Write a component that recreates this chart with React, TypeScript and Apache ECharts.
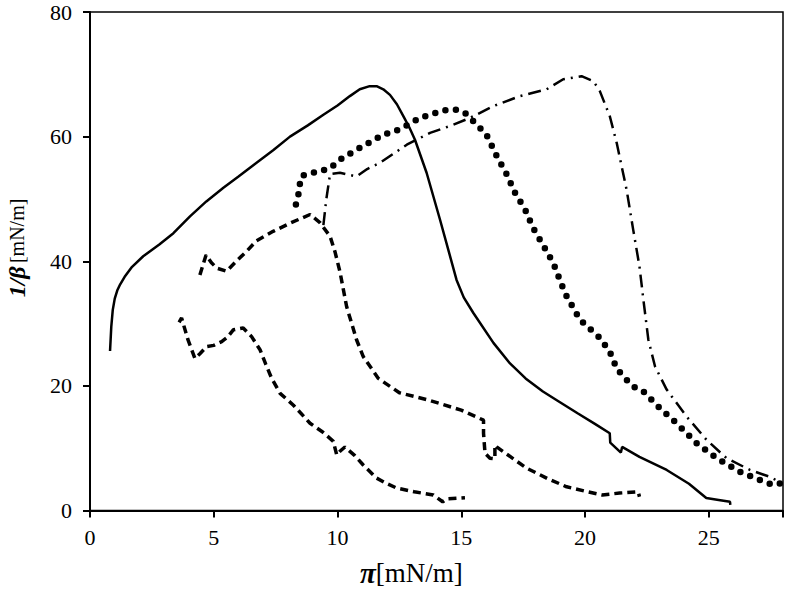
import React, { useEffect, useRef } from "react";
import * as echarts from "echarts";

const xTicks = [0, 5, 10, 15, 20, 25];
const yTicks = [0, 20, 40, 60, 80];

const solid: number[][] = [
  [0.81, 25.6], [0.86, 29.5], [0.92, 32.2], [1.0, 34.0], [1.1, 35.3], [1.22, 36.3], [1.4, 37.5],
  [1.7, 39.1], [2.15, 40.8],
  [2.8, 42.7], [3.37, 44.5], [4.04, 47.2], [4.7, 49.6], [5.39, 51.8], [6.0, 53.6], [6.73, 55.8],
  [7.4, 57.8], [8.08, 60], [8.8, 61.8], [9.43, 63.5], [10.0, 65], [10.5, 66.5], [10.9, 67.6],
  [11.3, 68.1], [11.58, 68.1], [11.85, 67.6], [12.12, 66.7], [12.4, 65.2], [12.66, 63.3],
  [12.9, 61.5], [13.13, 59.5], [13.6, 54.2], [14.14, 46.7], [14.5, 41.5], [14.81, 37],
  [15.1, 34.2], [15.49, 31.7], [16.3, 26.9], [16.97, 23.6], [17.6, 21.2], [18.3, 19.1],
  [18.86, 17.7], [19.7, 15.6], [20.4, 13.9], [21.0, 12.4], [21.02, 10.9], [21.45, 9.3],
  [21.5, 10.2], [22.2, 8.6], [23.3, 6.5], [24.2, 4.3], [24.9, 2.0], [25.4, 1.7], [25.86, 1.4],
  [25.87, 0.9],
];

const dashedLow: number[][] = [
  [3.6, 30.2], [3.7, 30.9], [3.95, 27.5], [4.24, 24.4], [4.45, 25.2], [4.71, 26.3], [5.0, 26.5],
  [5.32, 27.1], [5.55, 27.8], [5.79, 29], [6.19, 29.3], [6.53, 27.9], [6.87, 25.8], [7.1, 23.5],
  [7.34, 21.2], [7.68, 18.8], [8.22, 16.9], [8.89, 14], [9.4, 12.6], [9.83, 11.1], [9.97, 8.9],
  [10.1, 9.5], [10.3, 10.2], [10.7, 8.8], [11.04, 7.3], [11.58, 5.2], [12.0, 4.3], [12.39, 3.6],
  [13.1, 3.0], [13.87, 2.5], [14.25, 1.4], [14.4, 1.85], [15.15, 2.06],
];

const dashedMid: number[][] = [
  [4.44, 37.8], [4.69, 41], [4.9, 39.8], [5.12, 38.9], [5.52, 38.4], [5.93, 40.1], [6.33, 41.6],
  [6.73, 43.3], [7.4, 44.8], [8.08, 46.1], [8.89, 47.5], [9.29, 46.2], [9.7, 44], [9.9, 41.5],
  [10.1, 38.3], [10.37, 32.7], [10.77, 27.4], [11.04, 24.7], [11.65, 21.2], [12.5, 18.9],
  [13.7, 17.7], [15.0, 16.1], [15.9, 14.5], [15.9, 12.4], [15.96, 9.2], [16.16, 8.4],
  [16.36, 8.3], [16.36, 10.5], [16.43, 10.2], [17.64, 6.8], [18.5, 5.1], [19.26, 3.8],
  [20.0, 3.1], [20.7, 2.5], [21.4, 2.8], [22.15, 3.0], [22.2, 2.2],
];

const dotted: number[][] = [
  [8.32, 49.1], [8.42, 50.7], [8.48, 52.4], [8.55, 53.7], [9.02, 54.2], [9.7, 54.9], [10.1, 56.3],
  [10.77, 57.9], [11.85, 60.3], [12.53, 61.2], [13.33, 63], [14.28, 64.2], [14.81, 64.3],
  [15.15, 63.8], [15.69, 61.7], [16.03, 60.2], [16.43, 56.9], [16.83, 54], [17.17, 51],
  [17.58, 48.3], [17.91, 45.3], [18.32, 42.5], [18.72, 39.7], [19.2, 34.8], [19.8, 30.6],
  [20.6, 27.7], [21.0, 25.5], [21.28, 22.8], [21.55, 21.5], [21.95, 19.9], [22.36, 19.1],
  [23.03, 16.4], [23.7, 14], [24.51, 10.8], [25.32, 8.4], [26.26, 6.2], [27.07, 4.9],
  [27.6, 4.1], [27.95, 4.4],
];

const dashDot: number[][] = [
  [9.43, 45.8], [9.55, 50], [9.7, 54.0], [10.1, 54.2], [10.77, 53.6], [11.2, 54.8], [11.72, 55.8],
  [12.8, 58.7], [13.74, 60.6], [14.68, 61.9], [15.35, 63], [16.3, 64.9], [17.37, 66.5],
  [18.45, 67.6], [19.12, 69.2], [19.86, 69.7], [20.34, 68.9], [20.6, 67.3], [21.0, 63.3],
  [21.28, 59], [21.68, 51.5], [21.95, 45], [22.2, 39.2], [22.36, 33.8], [22.56, 27.4],
  [22.83, 23.1], [23.3, 19.4], [24.1, 15.1], [24.92, 11.3], [25.72, 8.4], [26.67, 6.5],
  [27.47, 5.4], [27.95, 4.4],
];

const FONT = "Liberation Serif";

export default function App() {
  const ref = useRef<HTMLDivElement>(null);
  useEffect(() => {
    if (!ref.current) return;
    const chart = echarts.init(ref.current, null, { renderer: "svg" });
    const lineSeries = (data: number[][], lineStyle: any) => ({
      type: "line",
      data,
      showSymbol: false,
      symbol: "none",
      smooth: false,
      lineStyle: { color: "#000", ...lineStyle },
    });
    chart.setOption({
      animation: false,
      backgroundColor: "#fff",
      grid: {
        left: 90,
        right: 6,
        top: 12,
        bottom: 83.5,
        show: true,
        borderColor: "#000",
        borderWidth: 1.5,
        backgroundColor: "transparent",
      },
      xAxis: {
        type: "value",
        min: 0,
        max: 28,
        interval: 5,
        axisLine: { show: true, onZero: false, lineStyle: { color: "#000", width: 2 } },
        axisTick: { show: true, inside: false, length: 7, lineStyle: { color: "#000", width: 2 } },
        axisLabel: {
          margin: 16,
          color: "#000",
          fontFamily: FONT,
          fontSize: 22,
          formatter: (v: number) => (xTicks.includes(v) ? String(v) : ""),
        },
        splitLine: { show: false },
      },
      yAxis: {
        type: "value",
        min: 0,
        max: 80,
        interval: 20,
        axisLine: { show: true, onZero: false, lineStyle: { color: "#000", width: 2 } },
        axisTick: { show: true, inside: false, length: 7, lineStyle: { color: "#000", width: 2 } },
        axisLabel: {
          margin: 18,
          color: "#000",
          fontFamily: FONT,
          fontSize: 22,
          formatter: (v: number) => (yTicks.includes(v) ? String(v) : ""),
        },
        splitLine: { show: false },
      },
      graphic: [
        {
          type: "text",
          left: 360,
          top: 558,
          style: {
            text: "{b|π}{n|[mN/m]}",
            rich: {
              b: { fontFamily: FONT, fontSize: 29, fontWeight: "bold", fontStyle: "italic", fill: "#000" },
              n: { fontFamily: FONT, fontSize: 27, fill: "#000" },
            },
          },
        },
        {
          type: "text",
          x: 17,
          y: 248,
          rotation: Math.PI / 2,
          style: {
            text: "{b|1/β} {n|[mN/m]}",
            align: "center",
            verticalAlign: "middle",
            rich: {
              b: { fontFamily: FONT, fontSize: 24, fontWeight: "bold", fontStyle: "italic", fill: "#000" },
              n: { fontFamily: FONT, fontSize: 20, fill: "#000" },
            },
          },
        },
      ],
      series: [
        lineSeries(solid, { width: 2.5, type: "solid" }),
        lineSeries(dashedLow, { width: 3.5, type: [8, 5], cap: "butt" }),
        lineSeries(dashedMid, { width: 3.5, type: [8, 5], cap: "butt" }),
        lineSeries(dotted, { width: 6.5, type: [0, 10.5], cap: "round" }),
        lineSeries(dashDot, { width: 2.5, type: [13, 6, 2, 6], cap: "butt" }),
      ],
    });
    return () => chart.dispose();
  }, []);
  return <div ref={ref} style={{ width: 789, height: 594, position: "absolute", left: 0, top: 0 }} />;
}
